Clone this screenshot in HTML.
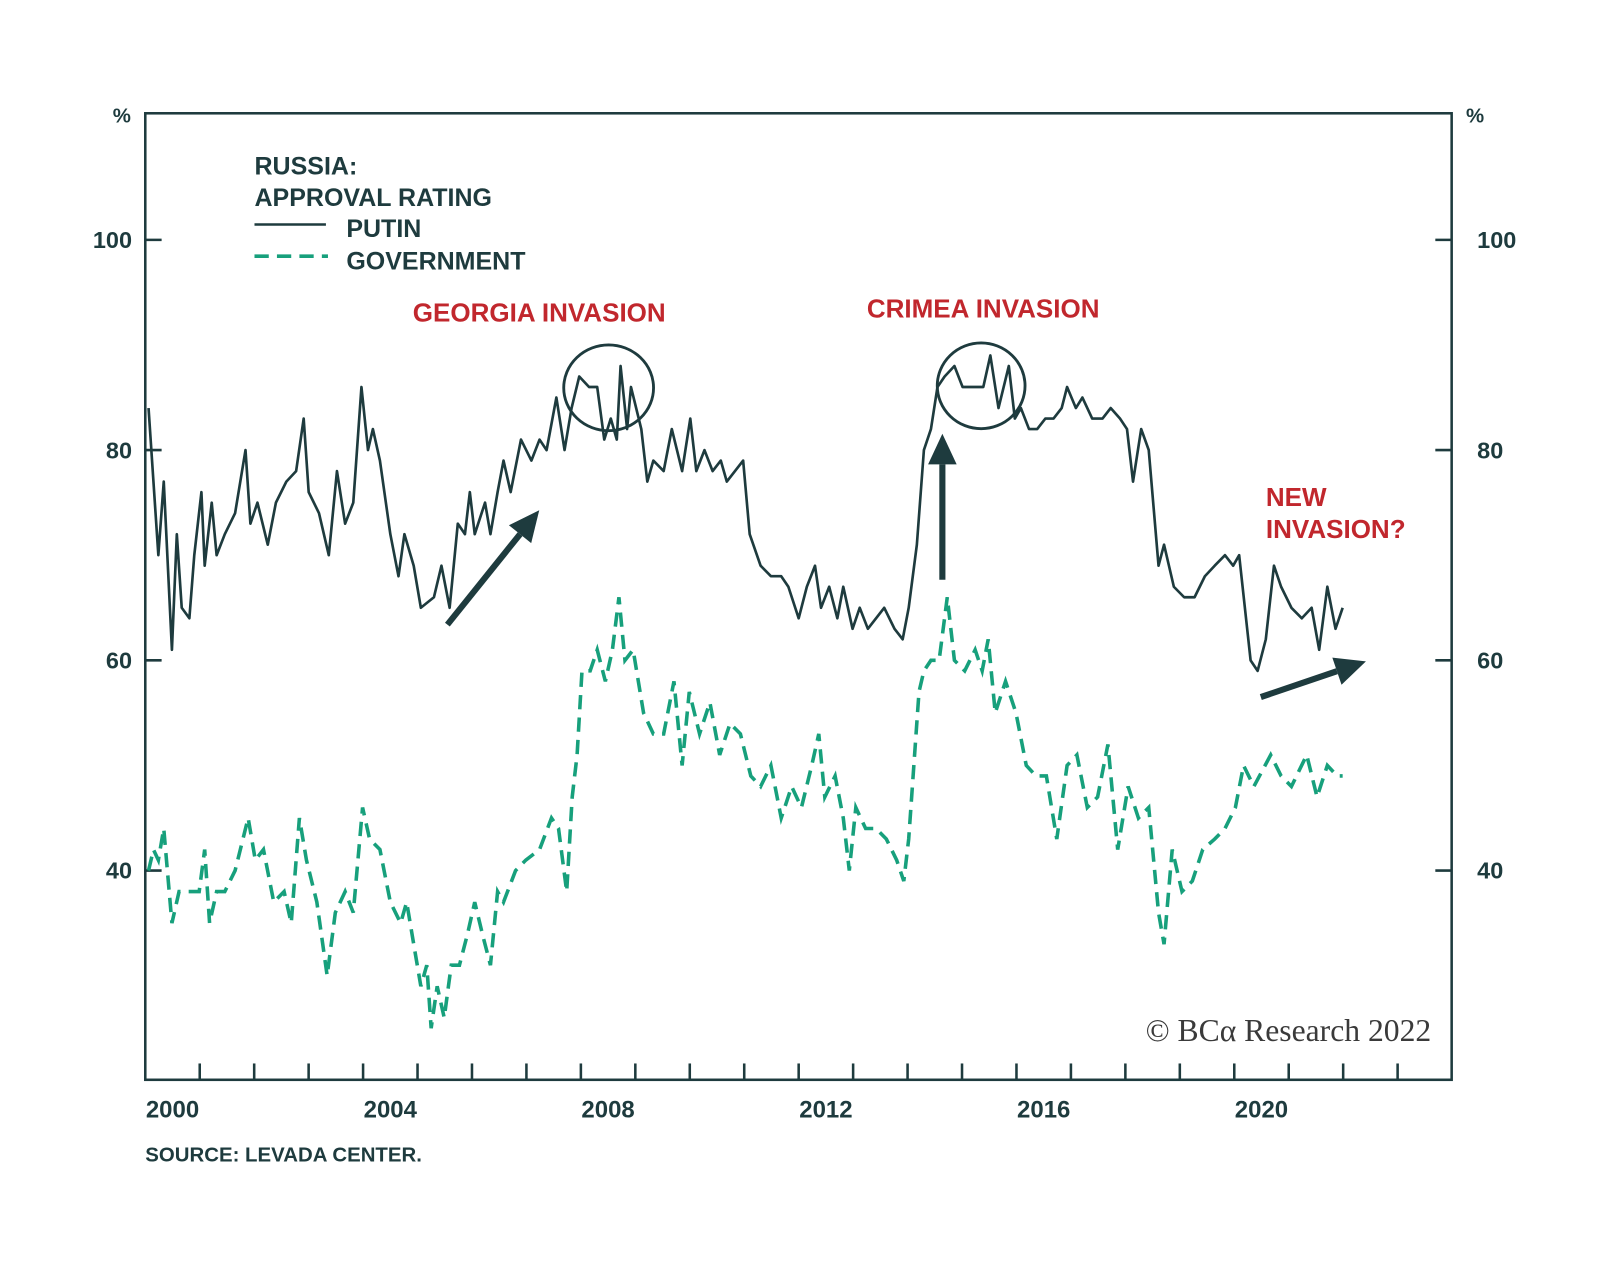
<!DOCTYPE html>
<html><head><meta charset="utf-8"><style>
html,body{margin:0;padding:0;background:#fff;}
svg{display:block;font-family:"Liberation Sans",Arial,sans-serif;}
</style></head><body>
<svg id="chart" width="1600" height="1288" viewBox="0 0 1567 1262">
<rect x="0" y="0" width="1567" height="1262" fill="#fff"/>
<g id="axes"></g>
<g id="series"></g>
<g id="annot"></g>
</svg>
<script>
const yTicks=[40,60,80,100];
const xLabels=[2000,2004,2008,2012,2016,2020];
const putinDates=[2000.06,2000.24,2000.34,2000.49,2000.58,2000.67,2000.81,2000.90,2001.03,2001.09,2001.22,2001.31,2001.46,2001.65,2001.84,2001.93,2002.06,2002.25,2002.40,2002.59,2002.77,2002.91,2003.00,2003.19,2003.37,2003.52,2003.67,2003.82,2003.97,2004.09,2004.18,2004.31,2004.50,2004.65,2004.76,2004.93,2005.06,2005.30,2005.44,2005.59,2005.74,2005.87,2005.96,2006.05,2006.24,2006.34,2006.47,2006.58,2006.71,2006.90,2007.09,2007.24,2007.37,2007.55,2007.70,2007.83,2007.97,2008.15,2008.30,2008.43,2008.55,2008.66,2008.73,2008.85,2008.92,2009.11,2009.22,2009.33,2009.52,2009.67,2009.86,2010.01,2010.12,2010.27,2010.42,2010.57,2010.68,2010.83,2010.98,2011.10,2011.30,2011.49,2011.68,2011.81,2012.00,2012.15,2012.30,2012.41,2012.56,2012.71,2012.82,2012.99,2013.12,2013.27,2013.42,2013.57,2013.76,2013.91,2014.02,2014.17,2014.30,2014.43,2014.55,2014.68,2014.86,2015.01,2015.24,2015.39,2015.52,2015.67,2015.86,2015.97,2016.08,2016.23,2016.38,2016.53,2016.68,2016.83,2016.93,2017.09,2017.21,2017.39,2017.58,2017.73,2017.90,2018.03,2018.14,2018.29,2018.43,2018.61,2018.71,2018.89,2019.08,2019.27,2019.46,2019.64,2019.83,2019.98,2020.09,2020.30,2020.43,2020.58,2020.73,2020.86,2021.05,2021.24,2021.42,2021.56,2021.71,2021.86,2021.99];
const putinValues=[84,70,77,61,72,65,64,70,76,69,75,70,72,74,80,73,75,71,75,77,78,83,76,74,70,78,73,75,86,80,82,79,72,68,72,69,65,66,69,65,73,72,76,72,75,72,76,79,76,81,79,81,80,85,80,84,87,86,86,81,83,81,88,82,86,82,77,79,78,82,78,83,78,80,78,79,77,78,79,72,69,68,68,67,64,67,69,65,67,64,67,63,65,63,64,65,63,62,65,71,80,82,86,87,88,86,86,86,89,84,88,83,84,82,82,83,83,84,86,84,85,83,83,84,83,82,77,82,80,69,71,67,66,66,68,69,70,69,70,60,59,62,69,67,65,64,65,61,67,63,65];
const govDates=[2000.06,2000.15,2000.24,2000.34,2000.49,2000.62,2000.81,2000.99,2001.09,2001.18,2001.31,2001.46,2001.65,2001.89,2002.02,2002.17,2002.36,2002.55,2002.68,2002.83,2002.96,2003.15,2003.34,2003.49,2003.67,2003.82,2003.99,2004.12,2004.31,2004.50,2004.69,2004.80,2004.93,2005.06,2005.17,2005.25,2005.36,2005.49,2005.62,2005.77,2005.92,2006.05,2006.19,2006.34,2006.47,2006.58,2006.80,2006.99,2007.24,2007.46,2007.59,2007.74,2007.84,2007.93,2008.02,2008.17,2008.30,2008.45,2008.58,2008.70,2008.81,2008.96,2009.15,2009.33,2009.52,2009.71,2009.86,2009.99,2010.18,2010.37,2010.55,2010.74,2010.93,2011.12,2011.30,2011.49,2011.68,2011.87,2012.05,2012.24,2012.37,2012.48,2012.67,2012.82,2012.93,2013.05,2013.23,2013.42,2013.61,2013.80,2013.93,2014.02,2014.21,2014.30,2014.43,2014.58,2014.73,2014.86,2015.05,2015.24,2015.37,2015.48,2015.61,2015.80,2015.99,2016.18,2016.36,2016.55,2016.74,2016.93,2017.11,2017.30,2017.49,2017.68,2017.86,2018.05,2018.24,2018.43,2018.61,2018.71,2018.86,2019.04,2019.23,2019.42,2019.64,2019.83,2020.02,2020.17,2020.36,2020.67,2020.86,2021.05,2021.33,2021.52,2021.71,2021.89,2021.99];
const govValues=[40,42,41,44,35,38,38,38,42,35,38,38,40,45,41,42,37,38,35,45,41,37,30,36,38,36,46,43,42,37,35,37,33,29,31,25,29,26,31,31,34,37,34,31,38,37,40,41,42,45,44,38,47,51,59,59,61,58,61,66,60,61,55,53,53,58,50,57,53,56,51,54,53,49,48,50,45,48,46,50,53,47,49,45,40,46,44,44,43,41,39,43,57,59,60,60,66,60,59,61,59,62,55,58,55,50,49,49,43,50,51,46,47,52,42,48,45,46,36,33,42,38,39,42,43,44,46,50,48,51,49,48,51,47,50,49,49];

const NS='http://www.w3.org/2000/svg';
const L=142,R=1422,T=111,B=1058;
function xs(t){return L+(t-2000)*53.35;}
function ys(v){return 235+(100-v)*10.3;}
function mk(tag,attrs,parent,text){const e=document.createElementNS(NS,tag);for(const k in attrs)e.setAttribute(k,attrs[k]);if(text!==undefined)e.textContent=text;parent.appendChild(e);return e;}
const ax=document.getElementById('axes'),se=document.getElementById('series'),an=document.getElementById('annot');
const dark='#1e3b3e',green='#17a07c',red='#c1272d';

const frame=mk('rect',{x:L,y:T,width:R-L,height:B-T,fill:'none',stroke:dark,'stroke-width':2.5},ax);


const pl=mk('text',{x:119,y:120,'text-anchor':'middle','font-size':20,'font-weight':'bold',fill:dark},ax,'%');


const pr=mk('text',{x:1445,y:120,'text-anchor':'middle','font-size':20,'font-weight':'bold',fill:dark},ax,'%');


yTicks.forEach(v=>{
  const y=ys(v);
  mk('line',{x1:L,x2:L+16,y1:y,y2:y,stroke:dark,'stroke-width':2.5},ax);
  mk('line',{x1:R-16,x2:R,y1:y,y2:y,stroke:dark,'stroke-width':2.5},ax);
  const a=mk('text',{x:129,y:y+8,'text-anchor':'end','font-size':23,'font-weight':'bold',fill:dark},ax,String(v));
  
  
  const b=mk('text',{x:1447,y:y+8,'text-anchor':'start','font-size':23,'font-weight':'bold',fill:dark},ax,String(v));
  
  
});
for(let yr=2001;yr<=2023;yr++){mk('line',{x1:xs(yr),x2:xs(yr),y1:B,y2:B-16,stroke:dark,'stroke-width':2.5},ax);}
xLabels.forEach(yr=>{
  const t=mk('text',{x:xs(yr+0.5),y:1095,'text-anchor':'middle','font-size':23.5,'font-weight':'bold',fill:dark},ax,String(yr));
  
  
});
const src=mk('text',{x:142,y:1138,'font-size':20,'font-weight':'bold',fill:dark},ax,'SOURCE: LEVADA CENTER.');



function pathD(d,v){return d.map((t,i)=>(i?'L':'M')+xs(t).toFixed(1)+','+ys(v[i]).toFixed(1)).join('');}
const gp=mk('path',{d:pathD(govDates,govValues),fill:'none',stroke:green,'stroke-width':3.5,'stroke-dasharray':'14 8'},se);


const pp=mk('path',{d:pathD(putinDates,putinValues),fill:'none',stroke:dark,'stroke-width':2.6,'stroke-linejoin':'round'},se);



[['RUSSIA:',249,171],['APPROVAL RATING',249,202]].forEach(([s,x,y])=>{
  const t=mk('text',{x:x,y:y,'font-size':24.5,'font-weight':'bold',fill:dark},an,s);
  
  
});
mk('line',{x1:249,x2:319,y1:220,y2:220,stroke:dark,'stroke-width':2.5},an);
mk('line',{x1:249,x2:321,y1:251,y2:251,stroke:green,'stroke-width':3.5,'stroke-dasharray':'14 8'},an);
const l1=mk('text',{x:339,y:232,'font-size':24.5,'font-weight':'bold',fill:dark},an,'PUTIN');


const l2=mk('text',{x:339,y:264,'font-size':24.5,'font-weight':'bold',fill:dark},an,'GOVERNMENT');



[['GEORGIA INVASION',528,315,'middle','georgia-label'],['CRIMEA INVASION',963,311,'middle','crimea-label'],['NEW',1240,496,'start','new-invasion-label'],['INVASION?',1240,527,'start','new-invasion-label']].forEach(([s,x,y,a,n])=>{
  const t=mk('text',{x:x,y:y,'text-anchor':a,'font-size':25.5,'font-weight':'bold',fill:red},an,s);
  
  
});
const c1=mk('ellipse',{cx:596,cy:380,rx:44,ry:42,fill:'none',stroke:dark,'stroke-width':2.8},an);


const c2=mk('ellipse',{cx:961,cy:378,rx:43,ry:42,fill:'none',stroke:dark,'stroke-width':2.8},an);


function arrow(x1,y1,x2,y2,name){
  const g=mk('g',{},an);
  
  
  const dx=x2-x1,dy=y2-y1,len=Math.hypot(dx,dy),ux=dx/len,uy=dy/len,h=30,w=14;
  const bx=x2-ux*h,by=y2-uy*h;
  mk('line',{x1:x1,y1:y1,x2:bx,y2:by,stroke:dark,'stroke-width':6},g);
  mk('polygon',{points:`${x2},${y2} ${bx-uy*w},${by+ux*w} ${bx+uy*w},${by-ux*w}`,fill:dark},g);
}
arrow(438,612,528,500,'georgia-arrow');
arrow(923,568,923,425,'crimea-arrow');
arrow(1235,683,1338,648,'new-invasion-arrow');
const wm=mk('text',{x:1402,y:1020,'text-anchor':'end','font-size':31,fill:'#3a3a3a','font-family':'"Liberation Serif",serif'},an,'© BCα Research 2022');


</script>
</body></html>
